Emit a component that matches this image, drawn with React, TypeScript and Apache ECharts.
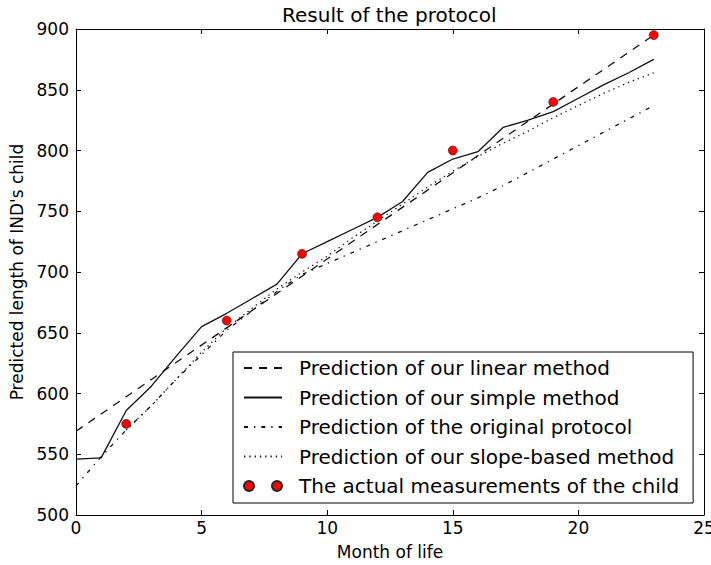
import React, { useEffect, useRef } from 'react';
import * as echarts from 'echarts';

const months = [0, 1, 2, 3, 4, 5, 6, 7, 8, 9, 10, 11, 12, 13, 14, 15, 16, 17, 18, 19, 20, 21, 22, 23];
const linearMonths = [0, 23];
const linearValues = [569, 895];
const simpleValues = [546, 547, 586, 606, 631, 655, 666, 678, 690, 715, 725, 735, 745, 758, 782, 793, 799, 819, 825, 832, 843, 854, 864, 875];
const originalValues = [524, 548, 570, 590, 612, 632, 652, 668, 684, 698, 707, 716, 725, 734, 743, 752, 761, 771, 782, 793, 804, 815, 826, 837];
const slopeMonths = [2, 3, 4, 5, 6, 7, 8, 9, 10, 11, 12, 13, 14, 15, 16, 17, 18, 19, 20, 21, 22, 23];
const slopeValues = [570, 590, 612, 634, 654, 670, 686, 700, 713, 728, 742, 756, 770, 783, 795, 806, 816, 827, 837, 847, 856, 864];
const measureMonths = [2, 6, 9, 12, 15, 19, 23];
const measureValues = [575, 660, 715, 745, 800, 840, 895];

const seriesNames = [
  'Prediction of our linear method',
  'Prediction of our simple method',
  'Prediction of the original protocol',
  'Prediction of our slope-based method',
  'The actual measurements of the child',
];

const FONT = 'DejaVu Sans';

function pairs(xs: number[], ys: number[]) {
  return xs.map((x, i) => [x, ys[i]]);
}

export default function App() {
  const ref = useRef<HTMLDivElement>(null);
  useEffect(() => {
    const chart = echarts.init(ref.current!, null, { renderer: 'svg' });
    const axisCommon = {
      type: 'value',
      axisLine: { show: true, onZero: false, lineStyle: { color: '#000', width: 1 } },
      axisTick: { show: true, inside: true, length: 5, lineStyle: { color: '#000', width: 1 } },
      splitLine: { show: false },
    };
    const lineSeries = (name: string, data: number[][], type: any) => ({
      name,
      type: 'line',
      data,
      symbol: 'none',
      showSymbol: false,
      lineStyle: { color: '#111', width: 1.3, type, cap: 'butt' },
      itemStyle: { color: '#111' },
      z: 2,
    });
    const hiddenSymbol = { opacity: 0 };
    chart.setOption({
      animation: false,
      backgroundColor: '#fff',
      title: {
        text: 'Result of the protocol',
        left: 282,
        top: 5,
        padding: 0,
        textStyle: { fontFamily: FONT, fontSize: 20, fontWeight: 'normal', color: '#000' },
      },
      grid: { left: 76, right: 7, top: 29, bottom: 50, containLabel: false, outerBoundsMode: 'none' },
      xAxis: [
        {
          ...axisCommon,
          min: 0,
          max: 25,
          interval: 5,
          position: 'bottom',
          axisLabel: { fontFamily: FONT, fontSize: 17, color: '#000', margin: 4 },
          name: 'Month of life',
          nameLocation: 'middle',
          nameGap: 28,
          nameTextStyle: { fontFamily: FONT, fontSize: 17, color: '#000' },
        },
        {
          ...axisCommon,
          min: 0,
          max: 25,
          interval: 5,
          position: 'top',
          axisLabel: { show: false },
        },
      ],
      yAxis: [
        {
          ...axisCommon,
          min: 500,
          max: 900,
          interval: 50,
          position: 'left',
          axisLabel: { fontFamily: FONT, fontSize: 17, color: '#000', margin: 7 },
          name: "Predicted length of IND's child",
          nameLocation: 'middle',
          nameGap: 47,
          nameTextStyle: { fontFamily: FONT, fontSize: 17, color: '#000' },
        },
        {
          ...axisCommon,
          min: 500,
          max: 900,
          interval: 50,
          position: 'right',
          axisLabel: { show: false },
        },
      ],
      legend: {
        orient: 'vertical',
        left: 233,
        top: 352,
        padding: [6, 14, 7, 10],
        itemGap: 9.5,
        itemWidth: 38,
        itemHeight: 10,
        borderColor: '#000',
        borderWidth: 1,
        backgroundColor: '#fff',
        textStyle: { fontFamily: FONT, fontSize: 20, color: '#000', lineHeight: 20, padding: [0, 0, 0, 12] },
        data: [
          { name: seriesNames[0], itemStyle: hiddenSymbol },
          { name: seriesNames[1], itemStyle: hiddenSymbol },
          { name: seriesNames[2], itemStyle: hiddenSymbol },
          { name: seriesNames[3], itemStyle: hiddenSymbol },
          {
            name: seriesNames[4],
            icon: 'path://M0,5A5,5 0 1 1 10,5A5,5 0 1 1 0,5ZM28,5A5,5 0 1 1 38,5A5,5 0 1 1 28,5Z',
          },
        ],
      },
      series: [
        lineSeries(seriesNames[0], pairs(linearMonths, linearValues), [8, 7]),
        lineSeries(seriesNames[1], pairs(months, simpleValues), 'solid'),
        lineSeries(seriesNames[2], pairs(months, originalValues), [4, 6, 1.3, 6]),
        lineSeries(seriesNames[3], pairs(slopeMonths, slopeValues), [1.3, 4]),
        {
          name: seriesNames[4],
          type: 'scatter',
          data: pairs(measureMonths, measureValues),
          symbol: 'circle',
          symbolSize: 9,
          itemStyle: { color: '#ff0000', borderColor: '#222', borderWidth: 0.6, opacity: 1 },
          z: 5,
        },
      ],
    });
    return () => chart.dispose();
  }, []);
  return (
    <div
      ref={ref}
      style={{ position: 'absolute', left: 0, top: 0, width: 711, height: 565, background: '#fff' }}
    />
  );
}
